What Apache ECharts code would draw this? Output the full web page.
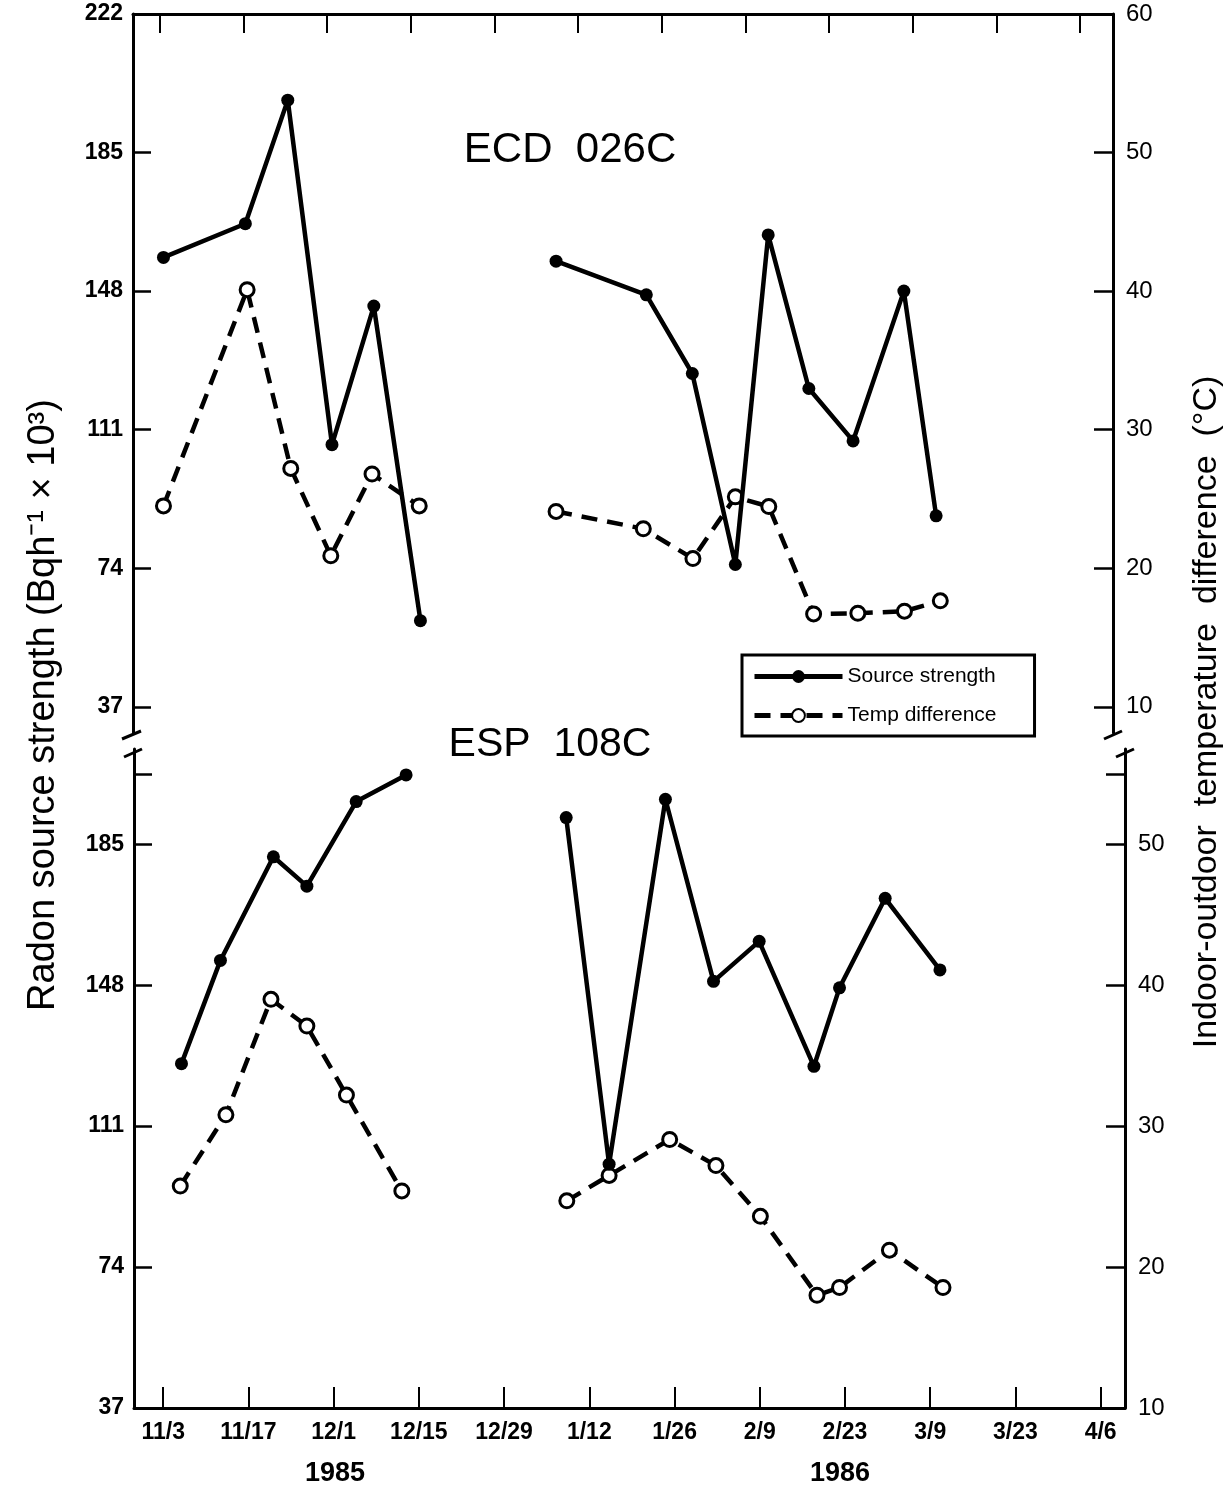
<!DOCTYPE html>
<html>
<head>
<meta charset="utf-8">
<script src="https://cdn.jsdelivr.net/npm/echarts@6.0.0/dist/echarts.min.js"></script>
<style>
html,body{margin:0;padding:0;background:#fff;}
#chart{width:1230px;height:1495px;}
</style>
</head>
<body>
<div id="chart"></div>
<script>
// ---- x axis: days since 11/3/1985 ----
const tickDays = [0, 14, 28, 42, 56, 70, 84, 98, 112, 126, 140, 154];
const tickLabels = ['11/3', '11/17', '12/1', '12/15', '12/29', '1/12', '1/26', '2/9', '2/23', '3/9', '3/23', '4/6'];
const yearLabels = ['1985', '1986'];

// ---- y axis ticks ----
const radonTicksTop = [37, 74, 111, 148, 185, 222];
const tempTicksTop = [10, 20, 30, 40, 50, 60];
const radonTicksBottom = [37, 74, 111, 148, 185, 203.5];
const radonLabelsBottom = [37, 74, 111, 148, 185];
const tempTicksBottom = [10, 20, 30, 40, 50, 55];
const tempLabelsBottom = [10, 20, 30, 40, 50];

// ---- ECD 026C (top panel) ----
const ecdSrc85Days = [0.6, 14.3, 21.4, 28.8, 35.8, 43.6];
const ecdSrc85 = [157, 166, 199, 107, 144, 60];
const ecdTmp85Days = [0.6, 14.6, 21.9, 28.6, 35.5, 43.4];
const ecdTmp85 = [24.5, 40.1, 27.2, 20.9, 26.8, 24.5];
const ecdSrc86Days = [66.3, 81.4, 89.1, 96.3, 101.8, 108.6, 116.0, 124.5, 129.9];
const ecdSrc86 = [156, 147, 126, 75, 163, 122, 108, 148, 88];
const ecdTmp86Days = [66.3, 80.9, 89.2, 96.3, 101.9, 109.4, 116.8, 124.6, 130.6];
const ecdTmp86 = [24.1, 22.85, 20.7, 25.15, 24.45, 16.7, 16.75, 16.9, 17.65];

// ---- ESP 108C (bottom panel) ----
const espSrc85Days = [3.0, 9.4, 18.1, 23.6, 31.7, 39.9];
const espSrc85 = [127.4, 154.5, 181.7, 174, 196.2, 203.2];
const espTmp85Days = [2.8, 10.3, 17.7, 23.6, 30.1, 39.2];
const espTmp85 = [25.75, 30.8, 39.0, 37.1, 32.2, 25.4];
const espSrc86Days = [66.2, 73.25, 82.5, 90.4, 97.9, 106.9, 111.1, 118.6, 127.6];
const espSrc86 = [192, 101, 196.8, 149, 159.5, 126.7, 147.3, 170.8, 152];
const espTmp86Days = [66.3, 73.25, 83.2, 90.8, 98.1, 107.4, 111.1, 119.3, 128.1];
const espTmp86 = [24.7, 26.5, 29.05, 27.2, 23.6, 18.0, 18.55, 21.2, 18.55];

const FONT = '"Liberation Sans", Arial, Helvetica, sans-serif';
// radon axis value -> temperature axis value (37 <-> 10, 185 <-> 50)
const toTemp = r => 10 + (r - 37) / 3.7;

const zip = (xs, ys) => xs.map((x, i) => [x, ys[i]]);
const labelOf = v => {
  const i = tickDays.indexOf(Math.round(v));
  return i >= 0 ? tickLabels[i] : '';
};

const topRadonMin = 30, topRadonMax = 222;
const botRadonMin = 37, botRadonMax = 210;

function srcSeries(xi, yi, days, vals) {
  return {
    name: 'Source strength', type: 'line', xAxisIndex: xi, yAxisIndex: yi,
    data: zip(days, vals), symbol: 'circle', symbolSize: 13,
    lineStyle: { color: '#000', width: 4.5 },
    itemStyle: { color: '#000' }, z: 3
  };
}
function tmpSeries(xi, yi, days, vals) {
  return {
    name: 'Temp difference', type: 'line', xAxisIndex: xi, yAxisIndex: yi,
    data: zip(days, vals), symbol: 'circle', symbolSize: 14,
    lineStyle: { color: '#000', width: 4.5, type: [16, 10] },
    itemStyle: { color: '#fff', borderColor: '#000', borderWidth: 3 }, z: 2
  };
}

const axisLineStyle = { show: true, onZero: false, lineStyle: { color: '#000', width: 3 } };

const option = {
  backgroundColor: '#fff',
  animation: false,
  legend: {
    data: ['Source strength', 'Temp difference'],
    orient: 'vertical', left: 742, top: 655,
    borderColor: '#000', borderWidth: 3, padding: [11, 38, 10, 10],
    itemGap: 18, itemWidth: 88, itemHeight: 16,
    lineStyle: { width: 5 },
    textStyle: { fontSize: 21, color: '#000', fontFamily: FONT }
  },
  grid: [
    { left: 133, top: 14, width: 980, height: 719 },
    { left: 134, top: 749, width: 991, height: 659 }
  ],
  xAxis: [
    {
      type: 'value', gridIndex: 0, position: 'top', min: -4.5, max: 159.5,
      axisLine: axisLineStyle, splitLine: { show: false },
      axisTick: { show: true, inside: true, length: 19, customValues: tickDays, lineStyle: { color: '#000', width: 2 } },
      axisLabel: { show: false }
    },
    {
      type: 'value', gridIndex: 1, position: 'bottom', min: -4.8, max: 158,
      axisLine: axisLineStyle, splitLine: { show: false },
      axisTick: { show: true, inside: true, length: 21, customValues: tickDays, lineStyle: { color: '#000', width: 2 } },
      axisLabel: {
        show: true, customValues: tickDays, formatter: labelOf, margin: 13,
        fontSize: 23, fontWeight: 'bold', color: '#000', fontFamily: FONT
      }
    }
  ],
  yAxis: [
    {
      type: 'value', gridIndex: 0, position: 'left', min: topRadonMin, max: topRadonMax,
      axisLine: axisLineStyle, splitLine: { show: false },
      axisTick: { show: true, inside: true, length: 18, customValues: radonTicksTop, lineStyle: { color: '#000', width: 2.5 } },
      axisLabel: { customValues: radonTicksTop, margin: 10, fontSize: 23, fontWeight: 'bold', color: '#000', fontFamily: FONT }
    },
    {
      type: 'value', gridIndex: 0, position: 'right', min: toTemp(topRadonMin), max: toTemp(topRadonMax),
      axisLine: axisLineStyle, splitLine: { show: false },
      axisTick: { show: true, inside: true, length: 19, customValues: tempTicksTop, lineStyle: { color: '#000', width: 2.5 } },
      axisLabel: { customValues: tempTicksTop, margin: 13, fontSize: 24, color: '#000', fontFamily: FONT }
    },
    {
      type: 'value', gridIndex: 1, position: 'left', min: botRadonMin, max: botRadonMax,
      axisLine: axisLineStyle, splitLine: { show: false },
      axisTick: { show: true, inside: true, length: 18, customValues: radonTicksBottom, lineStyle: { color: '#000', width: 2.5 } },
      axisLabel: { customValues: radonLabelsBottom, margin: 10, fontSize: 23, fontWeight: 'bold', color: '#000', fontFamily: FONT }
    },
    {
      type: 'value', gridIndex: 1, position: 'right', min: toTemp(botRadonMin), max: toTemp(botRadonMax),
      axisLine: axisLineStyle, splitLine: { show: false },
      axisTick: { show: true, inside: true, length: 19, customValues: tempTicksBottom, lineStyle: { color: '#000', width: 2.5 } },
      axisLabel: { customValues: tempLabelsBottom, margin: 13, fontSize: 24, color: '#000', fontFamily: FONT }
    }
  ],
  series: [
    srcSeries(0, 0, ecdSrc85Days, ecdSrc85),
    srcSeries(0, 0, ecdSrc86Days, ecdSrc86),
    tmpSeries(0, 1, ecdTmp85Days, ecdTmp85),
    tmpSeries(0, 1, ecdTmp86Days, ecdTmp86),
    srcSeries(1, 2, espSrc85Days, espSrc85),
    srcSeries(1, 2, espSrc86Days, espSrc86),
    tmpSeries(1, 3, espTmp85Days, espTmp85),
    tmpSeries(1, 3, espTmp86Days, espTmp86)
  ],
  graphic: [
    { type: 'text', x: 570, y: 150, style: { text: 'ECD  026C', font: '42px ' + FONT, fill: '#000', textAlign: 'center', textVerticalAlign: 'middle' } },
    { type: 'text', x: 550, y: 745, style: { text: 'ESP  108C', font: '41px ' + FONT, fill: '#000', textAlign: 'center', textVerticalAlign: 'middle' } },
    { type: 'text', x: 44, y: 705, rotation: Math.PI / 2, style: { text: 'Radon source strength (Bqh\u207B\u00B9 \u00D7 10\u00B3)', font: '38px ' + FONT, fill: '#000', textAlign: 'center', textVerticalAlign: 'middle' } },
    { type: 'text', x: 1207, y: 712, rotation: Math.PI / 2, style: { text: 'Indoor-outdoor  temperature  difference  (\u00B0C)', font: '34px ' + FONT, fill: '#000', textAlign: 'center', textVerticalAlign: 'middle' } },
    { type: 'text', x: 335, y: 1474, style: { text: yearLabels[0], font: 'bold 27px ' + FONT, fill: '#000', textAlign: 'center', textVerticalAlign: 'middle' } },
    { type: 'text', x: 840, y: 1474, style: { text: yearLabels[1], font: 'bold 27px ' + FONT, fill: '#000', textAlign: 'center', textVerticalAlign: 'middle' } },
    // axis break marks
    { type: 'line', shape: { x1: 122, y1: 739, x2: 141, y2: 731 }, style: { stroke: '#000', lineWidth: 3 } },
    { type: 'line', shape: { x1: 124, y1: 757, x2: 142, y2: 749 }, style: { stroke: '#000', lineWidth: 3 } },
    { type: 'line', shape: { x1: 1104, y1: 739, x2: 1122, y2: 731 }, style: { stroke: '#000', lineWidth: 3 } },
    { type: 'line', shape: { x1: 1116, y1: 757, x2: 1134, y2: 749 }, style: { stroke: '#000', lineWidth: 3 } }
  ]
};

const chart = echarts.init(document.getElementById('chart'), null, { renderer: 'canvas' });
chart.setOption(option);
</script>
</body>
</html>
